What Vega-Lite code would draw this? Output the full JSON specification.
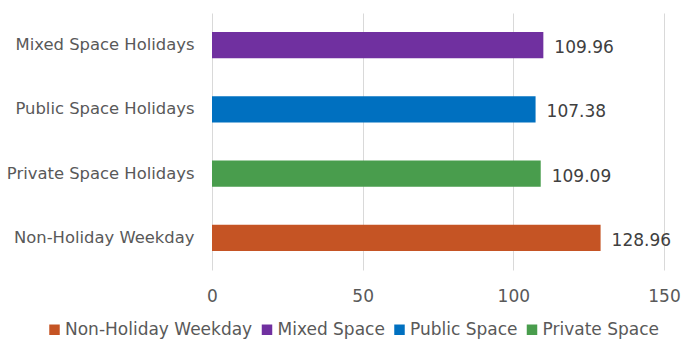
{
  "$schema": "https://vega.github.io/schema/vega-lite/v6.json",
  "width": 452,
  "height": 257,
  "autosize": "none",
  "padding": {"left": 212, "top": 13, "right": 19, "bottom": 71},
  "background": "white",
  "config": {
    "view": {"stroke": null},
    "font": "DejaVu Sans"
  },
  "data": {
    "values": [
      {"label": "Mixed Space Holidays", "series": "Mixed Space", "value": 109.96},
      {"label": "Public Space Holidays", "series": "Public Space", "value": 107.38},
      {"label": "Private Space Holidays", "series": "Private Space", "value": 109.09},
      {"label": "Non-Holiday Weekday", "series": "Non-Holiday Weekday", "value": 128.96}
    ]
  },
  "encoding": {
    "y": {
      "field": "label",
      "type": "nominal",
      "sort": ["Mixed Space Holidays", "Public Space Holidays", "Private Space Holidays", "Non-Holiday Weekday"],
      "scale": {"paddingInner": 0.594, "paddingOuter": 0.297},
      "axis": {
        "title": null,
        "ticks": false,
        "domain": false,
        "labelPadding": 18,
        "labelFontSize": 16.4,
        "labelLimit": 300,
        "labelColor": "#595959"
      }
    },
    "x": {
      "field": "value",
      "type": "quantitative",
      "scale": {"domain": [0, 150], "nice": false},
      "axis": {
        "title": null,
        "values": [0, 50, 100, 150],
        "ticks": false,
        "domain": false,
        "grid": true,
        "gridColor": "#d9d9d9",
        "gridWidth": 1,
        "labelPadding": 18,
        "labelFontSize": 17,
        "labelColor": "#595959",
        "labelFlush": false
      }
    }
  },
  "layer": [
    {
      "mark": {"type": "bar"},
      "encoding": {
        "color": {
          "field": "series",
          "type": "nominal",
          "scale": {
            "domain": ["Non-Holiday Weekday", "Mixed Space", "Public Space", "Private Space"],
            "range": ["#C55424", "#7030A0", "#0070C0", "#499D4D"]
          },
          "legend": {
            "title": null,
            "orient": "none",
            "direction": "horizontal",
            "legendX": -166,
            "legendY": 308,
            "symbolType": "square",
            "symbolSize": 110,
            "symbolStrokeWidth": 0,
            "symbolOpacity": 1,
            "labelFontSize": 17,
            "labelLimit": 400,
            "labelColor": "#595959",
            "labelOffset": 2,
            "columnPadding": 5.5
          }
        }
      }
    },
    {
      "mark": {"type": "text", "align": "left", "baseline": "middle", "dx": 11, "dy": 3, "fontSize": 17, "color": "#404040"},
      "encoding": {
        "text": {"field": "value", "type": "quantitative", "format": ".2f"}
      }
    }
  ]
}
